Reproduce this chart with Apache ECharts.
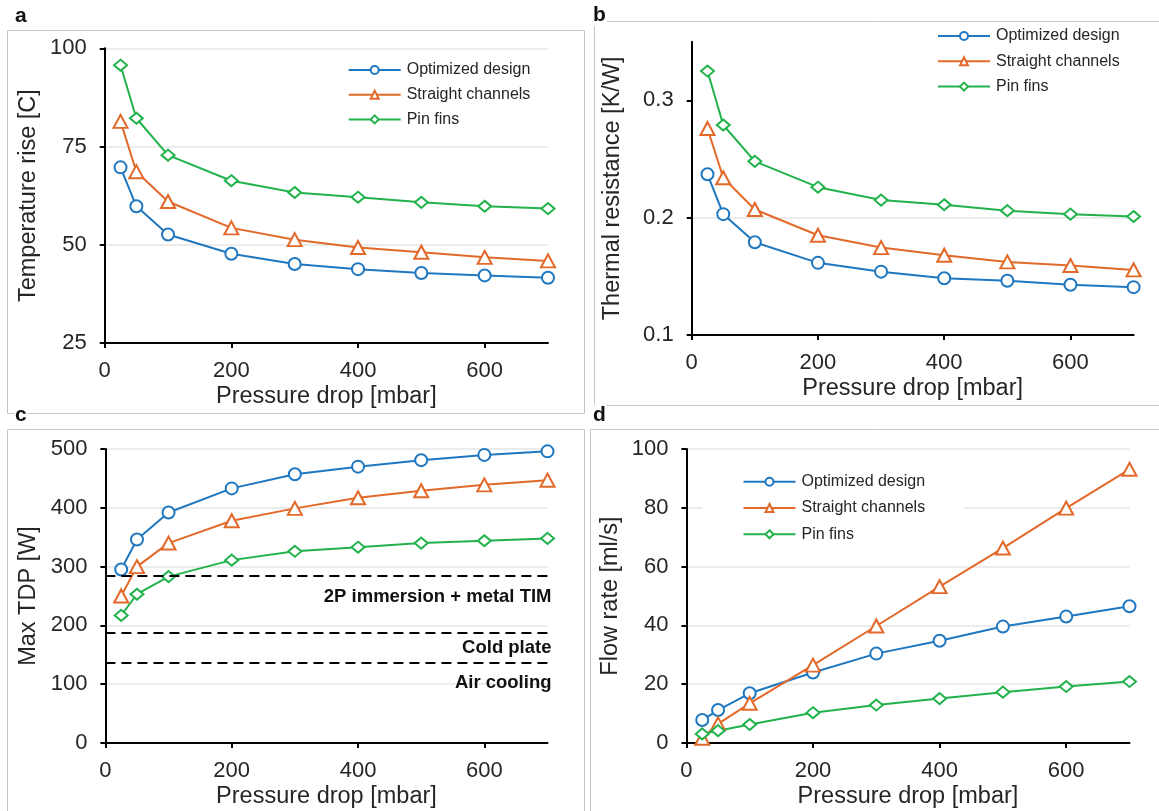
<!DOCTYPE html>
<html>
<head>
<meta charset="utf-8">
<title>Cooling design comparison</title>
<script src="https://cdn.jsdelivr.net/npm/echarts@6/dist/echarts.min.js"></script>
<style>
  html, body { margin: 0; padding: 0; background: #fff; }
  #chart { width: 1159px; height: 811px; }
</style>
</head>
<body>
<div id="chart"></div>
<script>
// ---- data ----
const pressureDrop = [25, 50, 100, 200, 300, 400, 500, 600, 700];
const seriesNames = ['Optimized design', 'Straight channels', 'Pin fins'];

const tempOptimized = [69.7, 59.8, 52.6, 47.7, 45.1, 43.8, 42.8, 42.2, 41.6];
const tempStraight  = [81.4, 68.6, 61.0, 54.3, 51.3, 49.3, 48.1, 46.8, 45.9];
const tempPinFins   = [95.7, 82.2, 72.8, 66.3, 63.3, 62.1, 60.8, 59.8, 59.2];

const resOptimized = [0.237, 0.203, 0.179, 0.1615, 0.154, 0.1484, 0.1462, 0.1428, 0.1408];
const resStraight  = [0.276, 0.234, 0.207, 0.185, 0.1745, 0.168, 0.1623, 0.1592, 0.1555];
const resPinFins   = [0.325, 0.279, 0.248, 0.226, 0.215, 0.211, 0.206, 0.203, 0.201];

const tdpOptimized = [295, 346, 392, 433, 457, 470, 481, 490, 496];
const tdpStraight  = [250, 300, 340, 378, 399, 417, 429, 439, 447];
const tdpPinFins   = [217, 253, 283, 311, 326, 333, 340, 344, 348];

const flowOptimized = [7.8, 11.2, 16.9, 24.0, 30.4, 34.8, 39.6, 43.0, 46.5];
const flowStraight  = [1.6, 6.5, 13.5, 26.5, 39.8, 53.2, 66.3, 79.9, 93.1];
const flowPinFins   = [3.1, 4.2, 6.3, 10.3, 12.9, 15.1, 17.3, 19.2, 20.9];

const coolingLimitNames  = ['2P immersion + metal TIM', 'Cold plate', 'Air cooling'];
const coolingLimitValues = [284, 188, 137];

const xTickValues = [0, 200, 400, 600];
const resTickValues = [0.1, 0.2, 0.3];

// ---- styling ----
const FONT = "'Liberation Sans', Arial, sans-serif";
const TEXT = '#262626';
const COLORS = ['#1f77c0', '#e2692a', '#22b24c'];
const SYMBOLS = ['emptyCircle', 'emptyTriangle', 'emptyDiamond'];
const SYMBOL_SIZES = [12, [14, 13], [13, 11]];

const grids = [
  { left: 104.7, top: 48.3, width: 443.3, height: 294.7 },
  { left: 691.7, top: 41.7, width: 441.9, height: 293.3 },
  { left: 105.4, top: 449, width: 442.1, height: 294 },
  { left: 686.4, top: 449, width: 443.1, height: 294 }
];

function xAxisFor(i) {
  return {
    type: 'value', gridIndex: i, min: 0, max: 700, interval: 200,
    name: 'Pressure drop [mbar]', nameLocation: 'middle', nameGap: 42,
    nameTextStyle: { fontSize: 23.5, color: TEXT, fontFamily: FONT },
    axisLine: { show: true, onZero: false, lineStyle: { color: '#000', width: 2 } },
    axisTick: { show: true, inside: false, length: 5, customValues: xTickValues,
                lineStyle: { color: '#000', width: 2 } },
    axisLabel: { show: true, fontSize: 22, color: TEXT, fontFamily: FONT, margin: 17,
                 customValues: xTickValues },
    splitLine: { show: false }
  };
}

function yAxisFor(i, name, min, max, interval, nameGap, extra) {
  const axis = {
    type: 'value', gridIndex: i, min: min, max: max, interval: interval,
    name: name, nameLocation: 'middle', nameGap: nameGap,
    nameTextStyle: { fontSize: 23.5, color: TEXT, fontFamily: FONT },
    axisLine: { show: true, onZero: false, lineStyle: { color: '#000', width: 2 } },
    axisTick: { show: true, inside: false, length: 5, lineStyle: { color: '#000', width: 2 } },
    axisLabel: { show: true, fontSize: 22, color: TEXT, fontFamily: FONT, margin: 18 },
    splitLine: { show: true, showMinLine: false, lineStyle: { color: '#ececec', width: 2 } }
  };
  return Object.assign(axis, extra || {});
}

function lineSeries(panel, k, values, extra) {
  return Object.assign({
    type: 'line', name: seriesNames[k],
    xAxisIndex: panel, yAxisIndex: panel,
    data: pressureDrop.map((p, j) => [p, values[j]]),
    symbol: SYMBOLS[k], symbolSize: SYMBOL_SIZES[k],
    itemStyle: { color: COLORS[k], borderWidth: 2 },
    lineStyle: { color: COLORS[k], width: 2 },
    clip: false, silent: true, animation: false,
    emphasis: { disabled: true }
  }, extra || {});
}

function legendAt(left, top, gap, extra) {
  return Object.assign({
    orient: 'vertical', left: left, top: top, padding: 0,
    itemWidth: 52, itemHeight: 10, itemGap: gap,
    selectedMode: false, data: seriesNames,
    textStyle: { fontSize: 16, color: TEXT, fontFamily: FONT, padding: [0, 0, 0, 1] },
    itemStyle: { borderWidth: 2 }
  }, extra || {});
}

const limitMarkLine = {
  silent: true, symbol: 'none', animation: false,
  lineStyle: { color: '#000', width: 2, type: [10, 6] },
  data: coolingLimitValues.map((v, j) => ({
    yAxis: v,
    label: {
      show: true, position: 'insideEndBottom', formatter: coolingLimitNames[j],
      distance: [-4, [11, 6, 11][j]],
      fontSize: 18.5, fontWeight: 'bold', color: '#111', fontFamily: FONT
    }
  }))
};

const frameStyle = { fill: 'none', stroke: '#c6c6c6', lineWidth: 1 };
function panelLetter(ch, x, y) {
  return {
    type: 'text', x: x, y: y, z: 100,
    style: { text: ch, font: "bold 21px 'Liberation Sans', Arial, sans-serif",
             fill: '#111', verticalAlign: 'top', backgroundColor: '#fff', padding: [0, 1, 0, 0] }
  };
}

const option = {
  backgroundColor: '#fff',
  animation: false,
  textStyle: { fontFamily: FONT },
  grid: grids.map(g => Object.assign({ outerBoundsMode: 'none', containLabel: false }, g)),
  xAxis: [0, 1, 2, 3].map(xAxisFor),
  yAxis: [
    yAxisFor(0, 'Temperature rise [C]', 25, 100, 25, 64),
    yAxisFor(1, 'Thermal resistance [K/W]', 0.1, 0.35, 0.1, 67, {
      axisTick: { show: true, inside: false, length: 5, customValues: resTickValues,
                  lineStyle: { color: '#000', width: 2 } },
      axisLabel: { show: true, fontSize: 22, color: TEXT, fontFamily: FONT, margin: 18,
                   customValues: resTickValues, formatter: v => v.toFixed(1) },
      splitLine: { show: true, showMinLine: false, showMaxLine: false,
                   lineStyle: { color: '#ececec', width: 2 } }
    }),
    yAxisFor(2, 'Max TDP [W]', 0, 500, 100, 65),
    yAxisFor(3, 'Flow rate [ml/s]', 0, 100, 20, 64)
  ],
  legend: [
    legendAt(347.7, 62, 8.7),
    legendAt(937, 28, 9.3),
    legendAt(702.5, 463.7, 10.3, { padding: [10, 39, 10, 40], backgroundColor: '#fff' })
  ],
  series: [
    lineSeries(0, 0, tempOptimized),
    lineSeries(0, 1, tempStraight),
    lineSeries(0, 2, tempPinFins),
    lineSeries(1, 0, resOptimized),
    lineSeries(1, 1, resStraight),
    lineSeries(1, 2, resPinFins),
    lineSeries(2, 0, tdpOptimized, { markLine: limitMarkLine }),
    lineSeries(2, 1, tdpStraight),
    lineSeries(2, 2, tdpPinFins),
    lineSeries(3, 0, flowOptimized),
    lineSeries(3, 1, flowStraight),
    lineSeries(3, 2, flowPinFins)
  ],
  graphic: [
    { type: 'rect', z: -10, shape: { x: 7.5, y: 30.5, width: 577, height: 383 }, style: frameStyle },
    { type: 'rect', z: -10, shape: { x: 594.5, y: 21.5, width: 600, height: 384 }, style: frameStyle },
    { type: 'rect', z: -10, shape: { x: 7.5, y: 429.5, width: 577, height: 420 }, style: frameStyle },
    { type: 'rect', z: -10, shape: { x: 590.5, y: 429.5, width: 600, height: 420 }, style: frameStyle },
    panelLetter('a', 15, 5.5),
    panelLetter('b', 593, 5.2),
    panelLetter('c', 15, 404.9),
    panelLetter('d', 593, 404.9)
  ]
};

const chart = echarts.init(document.getElementById('chart'), null, { renderer: 'canvas' });
chart.setOption(option);
</script>
</body>
</html>
